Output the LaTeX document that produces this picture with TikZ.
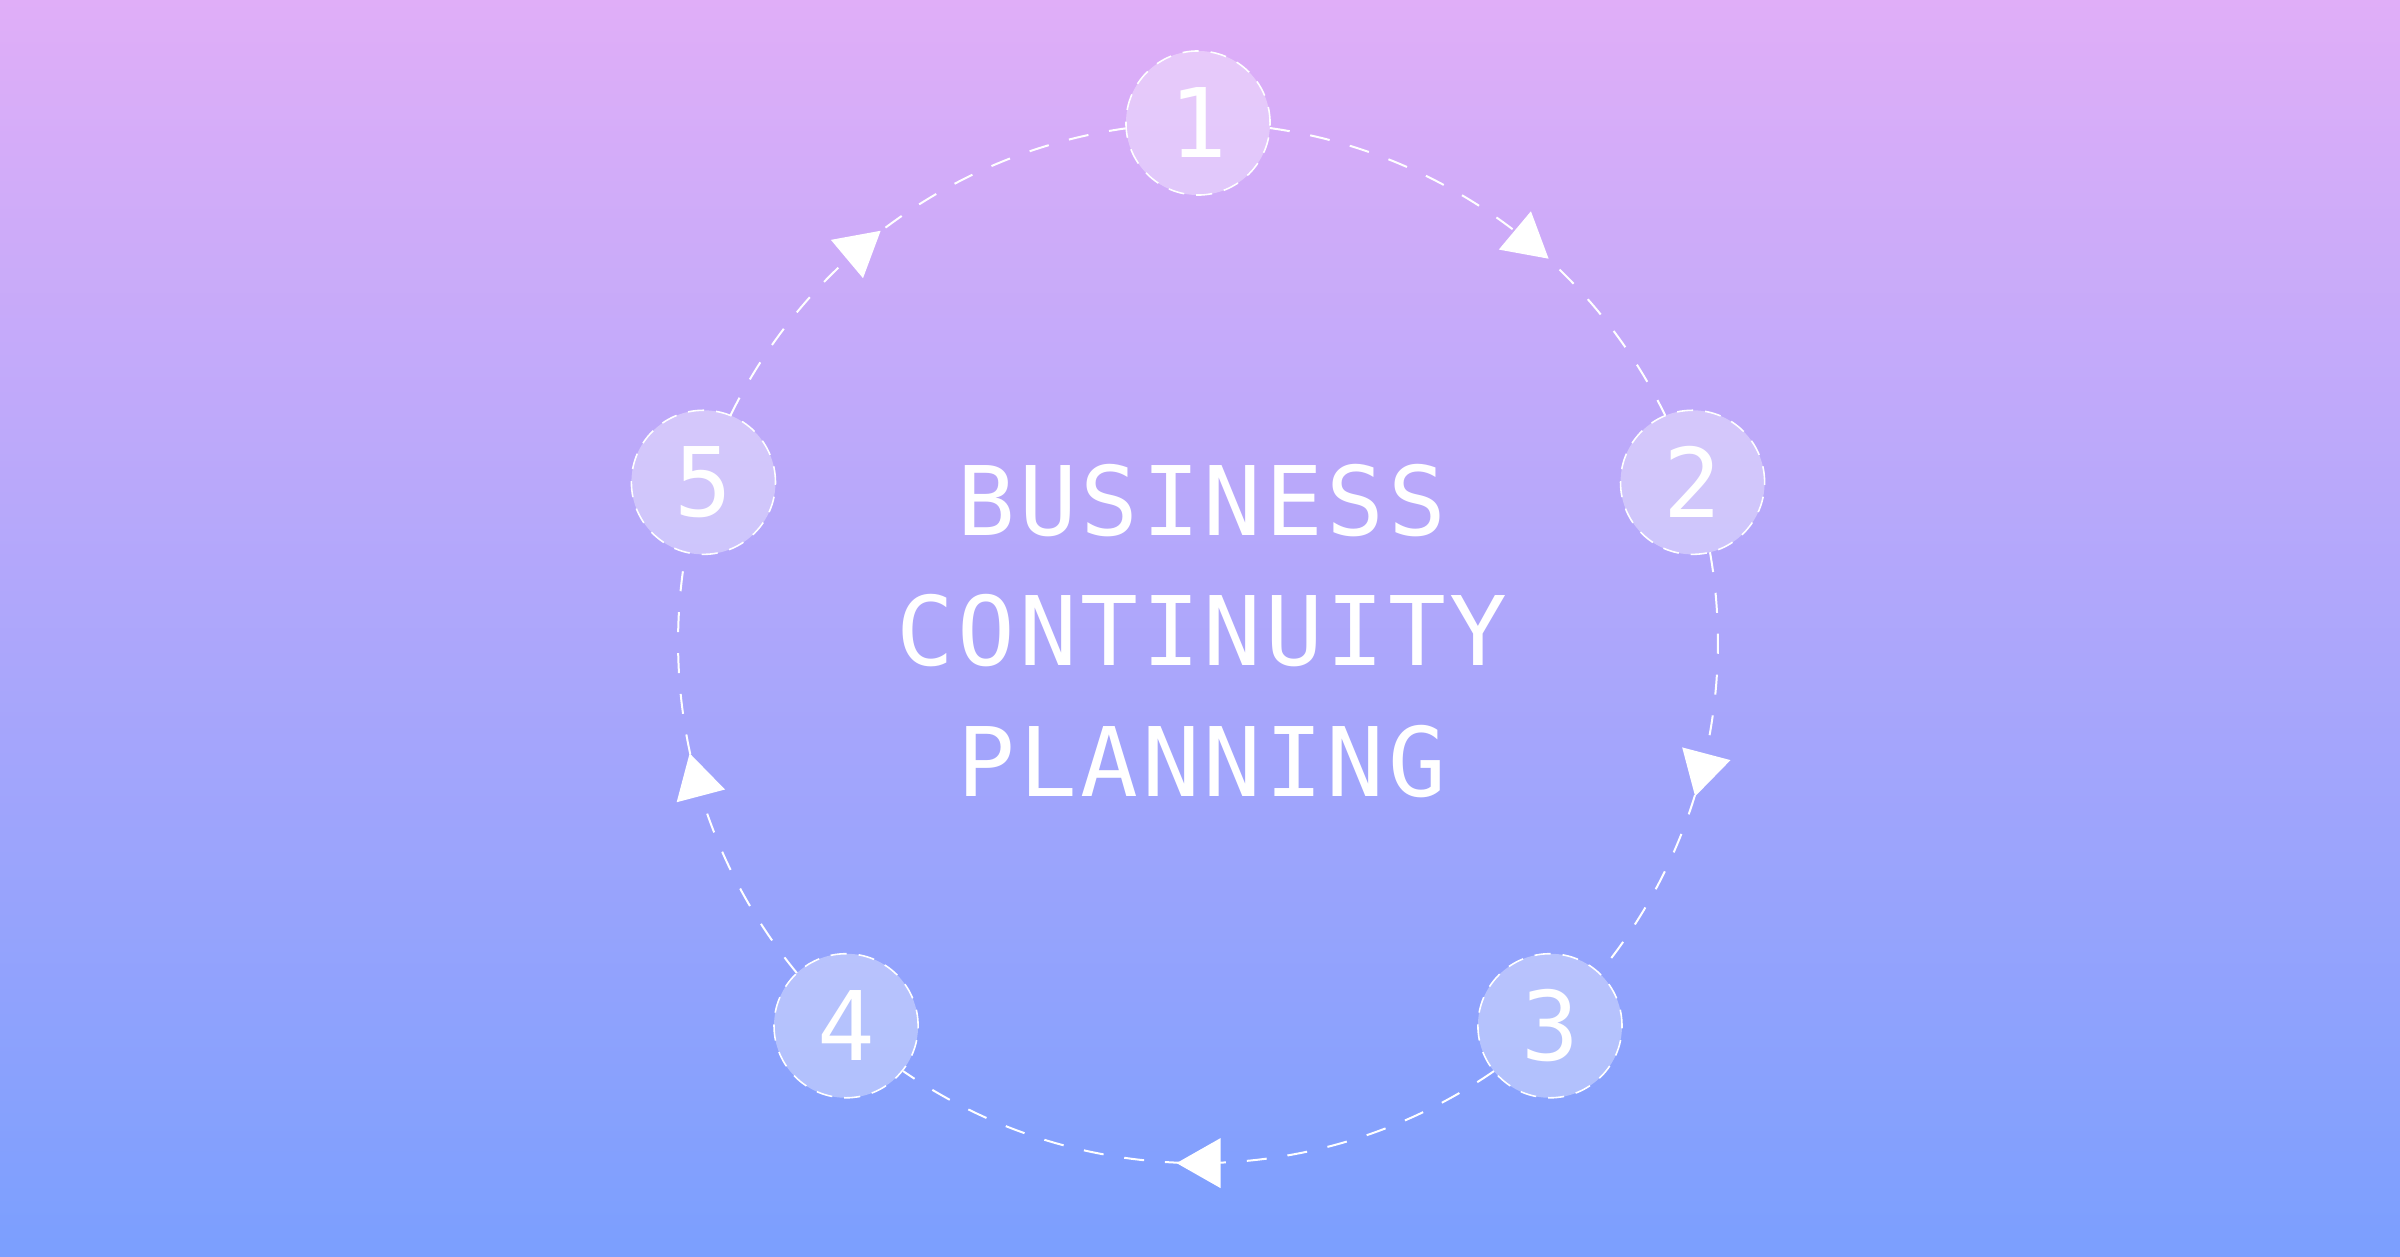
\documentclass[tikz,border=0pt]{standalone}
\usepackage{fontspec}
\newfontfamily\titlefont{DejaVu Sans Mono}[LetterSpace=3.85]
\newfontfamily\numfont{DejaVu Sans Mono}
\usetikzlibrary{decorations.markings,calc}
\definecolor{bgtop}{HTML}{E0AEF8}
\definecolor{bgbot}{HTML}{7B9FFE}
\begin{document}
\begin{tikzpicture}[x=0.01cm,y=0.01cm,
  stepnode/.style={circle, minimum size=1.44cm, inner sep=0pt, outer sep=0pt,
    fill=white, fill opacity=0.35, text opacity=1, draw=white, draw opacity=1,
    line width=0.45pt, dash pattern=on 4.6pt off 3.4pt, text=white,
    font=\numfont\fontsize{27.3}{30}\selectfont},
  conn/.style={draw=white, line width=0.57pt, dash pattern=on 5.7pt off 5.95pt},
  arrowat/.style={postaction={decorate}, decoration={markings,
    mark=at position #1 with {\fill[white] (22,0) -- (-22,25) -- (-22,-25) -- cycle;}}},
  titletext/.style={text=white, align=center, font=\titlefont\fontsize{27.3}{37}\selectfont}
]
\useasboundingbox (0,0) rectangle (2400,1256);
\shade[top color=bgtop, bottom color=bgbot] (0,0) rectangle (2400,1256);
\coordinate (C) at (1198,613);
\node[stepnode] (n1) at ($(C)+(90:520)$) {1};
\node[stepnode] (n2) at ($(C)+(18:520)$) {2};
\node[stepnode] (n3) at ($(C)+(-47.4:520)$) {3};
\node[stepnode] (n4) at ($(C)+(-132.6:520)$) {4};
\node[stepnode] (n5) at ($(C)+(162:520)$) {5};
\draw[conn, arrowat=0.571] (n1.-4) arc[start angle=82, end angle=26, radius=5.2cm];
\draw[conn, arrowat=0.5] (n2.-76) arc[start angle=10, end angle=-39.5, radius=5.2cm];
\draw[conn, arrowat=0.5] (n3.-141) arc[start angle=-55.4, end angle=-124.6, radius=5.2cm];
\draw[conn, arrowat=0.5] (n4.133) arc[start angle=-140.5, end angle=-190, radius=5.2cm];
\draw[conn, arrowat=0.429] (n5.68) arc[start angle=154, end angle=98, radius=5.2cm];
\node[titletext] (title) at (1202,625) {BUSINESS\\CONTINUITY\\PLANNING};
\end{tikzpicture}
\end{document}
